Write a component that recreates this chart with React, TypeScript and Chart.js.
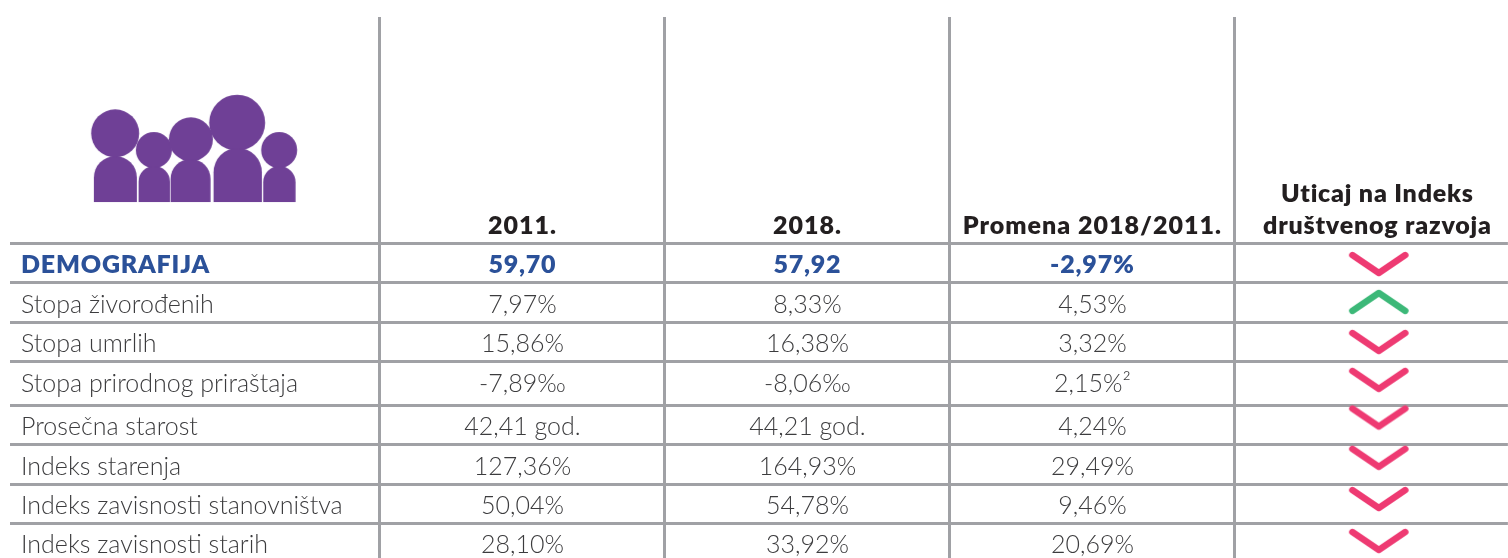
import React, { useEffect, useRef } from "react";
import { Chart, registerables } from "chart.js";

Chart.register(...registerables);

const sectionTitle = "DEMOGRAFIJA";
const headers = ["2011.", "2018.", "Promena 2018/2011."];
const impactHeader = ["Uticaj na Indeks", "društvenog razvoja"];
const categories = [
  "DEMOGRAFIJA",
  "Stopa živorođenih",
  "Stopa umrlih",
  "Stopa prirodnog priraštaja",
  "Prosečna starost",
  "Indeks starenja",
  "Indeks zavisnosti stanovništva",
  "Indeks zavisnosti starih",
];
const values2011 = ["59,70", "7,97%", "15,86%", "-7,89‰", "42,41 god.", "127,36%", "50,04%", "28,10%"];
const values2018 = ["57,92", "8,33%", "16,38%", "-8,06‰", "44,21 god.", "164,93%", "54,78%", "33,92%"];
const changes = ["-2,97%", "4,53%", "3,32%", "2,15%²", "4,24%", "29,49%", "9,46%", "20,69%"];
const impact = ["down", "up", "down", "down", "down", "down", "down", "down"];
const rowRules = [-0.505, 0.48, 1.49, 2.477, 3.59, 4.57, 5.585, 6.57];
const textRows = [0.013, 1.036, 2.034, 3.033, 4.132, 5.143, 6.128, 7.114];
const impactRows = [0, 0.96, 1.97, 2.93, 3.88, 4.9, 5.94, 7];
const columnRules = [1, 2, 3, 4];

const INK = "#3c3c3e";
const HEAD = "#231f20";
const BLUE = "#2b5199";
const PURPLE = "#6f4096";
const PINK = "#ee3a72";
const GREEN = "#3cb878";
const RULE = "#a0a1a5";
const LIGHT = '300 25px Lato, "Open Sans", sans-serif';
const BOLD = '800 25px Lato, "Open Sans", sans-serif';

function chevron(color: string, up: boolean) {
  const c = document.createElement("canvas");
  c.width = 62;
  c.height = 28;
  const g = c.getContext("2d")!;
  g.strokeStyle = color;
  g.lineWidth = 6.4;
  g.lineCap = "round";
  g.lineJoin = "round";
  g.beginPath();
  const a = up ? 23 : 5;
  const b = up ? 5 : 23;
  g.moveTo(4.5, a);
  g.lineTo(31, b);
  g.lineTo(57.5, a);
  g.stroke();
  return c;
}

function familyIcon() {
  const people = [
    [25.3, 43.3, 24, 4, 43, 66],
    [64, 60, 18, 48.7, 31.3, 76],
    [101, 49.3, 22, 80.7, 40, 69],
    [147.3, 32.7, 28, 123.7, 48.3, 58],
    [189.3, 60, 18, 173.3, 32.4, 76],
  ];
  const c = document.createElement("canvas");
  c.width = 212;
  c.height = 116;
  const g = c.getContext("2d")!;
  g.fillStyle = PURPLE;
  for (const [hx, hy, r, bx, bw, by] of people) {
    g.beginPath();
    g.arc(hx, hy, r, 0, Math.PI * 2);
    g.fill();
    g.beginPath();
    g.moveTo(bx, 112);
    g.lineTo(bx, by + bw / 2);
    g.ellipse(bx + bw / 2, by + bw / 2, bw / 2, bw / 2, 0, Math.PI, Math.PI * 2);
    g.lineTo(bx + bw, 112);
    g.closePath();
    g.fill();
  }
  return c;
}

const tablePlugin = {
  id: "tableText",
  afterDatasetsDraw(chart: any) {
    const { ctx, scales } = chart;
    const x = scales.x;
    const y = scales.y;
    const rowY = (i: number) => y.getPixelForValue(textRows[i]);
    ctx.save();
    ctx.textBaseline = "middle";

    ctx.textAlign = "center";
    ctx.font = BOLD;
    ctx.letterSpacing = "1px";
    ctx.fillStyle = HEAD;
    headers.forEach((h, i) => {
      ctx.fillText(h, x.getPixelForValue(i + 1.5), y.getPixelForValue(-0.955));
    });
    ctx.letterSpacing = "0.8px";
    impactHeader.forEach((h, i) => {
      ctx.fillText(h, x.getPixelForValue(4.5), y.getPixelForValue(-1.76 + i * 0.805));
    });

    categories.forEach((name, i) => {
      const isSection = name === sectionTitle;
      ctx.font = isSection ? BOLD : LIGHT;
      ctx.letterSpacing = isSection ? "0.8px" : "0px";
      ctx.fillStyle = isSection ? BLUE : INK;
      ctx.textAlign = "left";
      ctx.fillText(name, x.left + 11, rowY(i));
      ctx.textAlign = "center";
      [values2011, values2018, changes].forEach((col, c) => {
        ctx.fillText(col[i], x.getPixelForValue(c + 1.5), rowY(i));
      });
    });
    ctx.restore();
  },
};

export default function App() {
  const ref = useRef<HTMLCanvasElement>(null);
  useEffect(() => {
    const down = chevron(PINK, false);
    const up = chevron(GREEN, true);
    const icon = familyIcon();
    const chart = new Chart(ref.current!, {
      type: "scatter",
      data: {
        datasets: [
          {
            label: "Uticaj",
            data: impact.map((_, i) => ({ x: 4.505, y: impactRows[i] })),
            pointStyle: (c: any) => (impact[c.dataIndex] === "up" ? up : down),
            clip: false,
          } as any,
          {
            label: "Ikona",
            data: [{ x: 0.354, y: -2.93 }],
            pointStyle: icon,
            clip: false,
          } as any,
        ],
      },
      options: {
        responsive: false,
        animation: false,
        events: [],
        layout: { padding: { left: 10, top: 17, right: 0, bottom: 0 } },
        elements: { point: { radius: 0.1, hoverRadius: 0.1, borderWidth: 0, hoverBorderWidth: 0 } },
        plugins: { legend: { display: false }, tooltip: { enabled: false } },
        scales: {
          x: {
            type: "linear",
            min: -0.298,
            max: 4.958,
            border: { display: false },
            ticks: { display: false },
            grid: { color: RULE, lineWidth: 3, drawTicks: false },
            afterBuildTicks: (s: any) => {
              s.ticks = columnRules.map((value) => ({ value }));
            },
          },
          y: {
            type: "linear",
            reverse: true,
            min: -6.242,
            max: 7.43,
            border: { display: false },
            ticks: { display: false },
            grid: { color: RULE, lineWidth: 3, drawTicks: false },
            afterBuildTicks: (s: any) => {
              s.ticks = rowRules.map((value) => ({ value }));
            },
          },
        },
      },
      plugins: [tablePlugin],
    });
    return () => chart.destroy();
  }, []);
  return (
    <div style={{ position: "absolute", left: 0, top: 0, width: 1508, height: 558, background: "#fff" }}>
      <canvas ref={ref} width={1508} height={558} style={{ display: "block" }} />
    </div>
  );
}
